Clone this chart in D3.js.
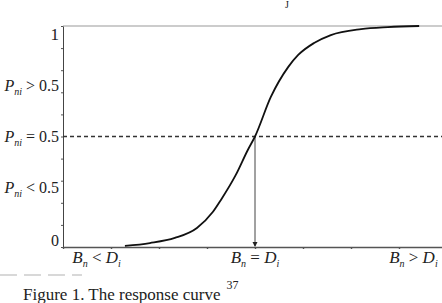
<!DOCTYPE html>
<meta charset="utf-8">
<head>
  <title>Response curve</title>
</head>
<script src="https://d3js.org/d3.v7.min.js"></script>
<style>
  body { margin: 0; background: #fff; }
  svg text { font-family: "Liberation Serif", "DejaVu Serif", serif; fill: #222; }
</style>
<body>
  <div id="chart"></div>
</body>
<script>
  // curve: u = (Bn - Di) in axis units, p = Pni
  var curveU = [-2.71, -2.19, -1.67, -1.21, -0.88, -0.71, -0.40, -0.15, 0, 0.33, 0.69, 0.90, 1.23, 1.58, 2.21, 2.77, 3.42];
  var curveP = [0.005, 0.018, 0.041, 0.086, 0.158, 0.213, 0.326, 0.439, 0.5, 0.679, 0.814, 0.869, 0.923, 0.959, 0.986, 0.995, 1.0];

  var yTicks = d3.range(0, 11).map(function (i) { return i / 10; });
  var xTicks = [-4, -3, -2, -1, 0, 1, 2, 3, 4];

  // y labels: value on the P axis, main symbol, subscript, rest
  var yLabelPos = [0.965, 0.73, 0.5, 0.27, 0.03];
  var yLabelMain = ["", "P", "P", "P", "" ];
  var yLabelSub = ["", "ni", "ni", "ni", ""];
  var yLabelRest = ["1", " > 0.5", " = 0.5", " < 0.5", "0"];

  // x labels: position in u, text parts
  var xLabelPos = [-3.3, 0, 3.3];
  var xLabelB = ["B", "B", "B"];
  var xLabelOp = [" < ", " = ", " > "];

  var threshold = 0.5;

  var W = 442, H = 303;
  var svg = d3.select("#chart").append("svg")
    .attr("width", W).attr("height", H);

  var x = d3.scaleLinear().domain([-4, 4]).range([63, 447]);
  var y = d3.scaleLinear().domain([0, 1]).range([247, 26]);

  // faint fragment of text left over at the top
  svg.append("text").attr("x", 285).attr("y", 8)
    .style("font-size", "10px").text("J");

  // top boundary line at P = 1
  svg.append("line")
    .attr("x1", x(-4)).attr("x2", W)
    .attr("y1", y(1)).attr("y2", y(1))
    .attr("stroke", "#999").attr("stroke-width", 1);

  // y axis
  var yAxis = svg.append("g")
    .attr("transform", "translate(" + x(-4) + ",0)")
    .call(d3.axisLeft(y).tickValues(yTicks).tickSize(2).tickSizeOuter(0).tickFormat(""));
  yAxis.select(".domain").attr("stroke", "#444");
  yAxis.selectAll(".tick line").attr("stroke", "#555");

  // x axis
  var xAxis = svg.append("g")
    .attr("transform", "translate(0," + y(0) + ")")
    .call(d3.axisBottom(x).tickValues(xTicks).tickSize(2).tickSizeOuter(0).tickFormat(""));
  xAxis.select(".domain").attr("stroke", "#555").attr("stroke-width", 1.6);
  xAxis.selectAll(".tick line").attr("stroke", "#555").attr("stroke-width", 1.4);

  // dashed line at P = 0.5
  svg.append("line")
    .attr("x1", x(-4)).attr("x2", W)
    .attr("y1", y(threshold)).attr("y2", y(threshold))
    .attr("stroke", "#333").attr("stroke-width", 1.3)
    .attr("stroke-dasharray", "4,3");

  // vertical drop line at Bn = Di
  svg.append("line")
    .attr("x1", x(0)).attr("x2", x(0))
    .attr("y1", y(threshold)).attr("y2", y(0) - 1)
    .attr("stroke", "#444").attr("stroke-width", 1);
  svg.append("path")
    .attr("d", "M" + (x(0) - 2.5) + "," + (y(0) - 5) + "L" + (x(0) + 2.5) + "," + (y(0) - 5) + "L" + x(0) + "," + y(0) + "Z")
    .attr("fill", "#222");

  // response curve
  var pts = curveU.map(function (u, i) { return [u, curveP[i]]; });
  svg.append("path")
    .datum(pts)
    .attr("d", d3.line()
      .curve(d3.curveMonotoneX)
      .x(function (d) { return x(d[0]); })
      .y(function (d) { return y(d[1]); }))
    .attr("fill", "none")
    .attr("stroke", "#111")
    .attr("stroke-width", 1.8);

  // y labels
  yLabelPos.forEach(function (v, i) {
    var t = svg.append("text")
      .attr("x", 59).attr("y", y(v))
      .attr("dy", "0.35em")
      .attr("text-anchor", "end")
      .style("font-size", i === 0 ? "17px" : "16px");
    if (yLabelMain[i]) {
      t.append("tspan").style("font-style", "italic").text(yLabelMain[i]);
      t.append("tspan").style("font-style", "italic").style("font-size", "10px")
        .attr("dy", "4").text(yLabelSub[i]);
      t.append("tspan").attr("dy", "-4").text(yLabelRest[i]);
    } else {
      t.text(yLabelRest[i]);
    }
  });

  // x labels
  xLabelPos.forEach(function (u, i) {
    var t = svg.append("text")
      .attr("x", x(u)).attr("y", 263)
      .attr("text-anchor", "middle")
      .style("font-size", "17px");
    t.append("tspan").style("font-style", "italic").text(xLabelB[i]);
    t.append("tspan").style("font-style", "italic").style("font-size", "10px")
      .attr("dy", "4").text("n");
    t.append("tspan").attr("dy", "-4").text(xLabelOp[i]);
    t.append("tspan").style("font-style", "italic").text("D");
    t.append("tspan").style("font-style", "italic").style("font-size", "10px")
      .attr("dy", "4").text("i");
  });

  // light leftover rule under the left label
  svg.append("line")
    .attr("x1", 0).attr("x2", 82)
    .attr("y1", 275).attr("y2", 275)
    .attr("stroke", "#ccc").attr("stroke-width", 1.5)
    .attr("stroke-dasharray", "17,7");

  // caption
  var cap = svg.append("text")
    .attr("x", 23).attr("y", 300)
    .style("font-size", "17px");
  cap.append("tspan").text("Figure 1. The response curve");
  cap.append("tspan").attr("dx", "6").attr("dy", "-11").style("font-size", "12px").text("37");
</script>
